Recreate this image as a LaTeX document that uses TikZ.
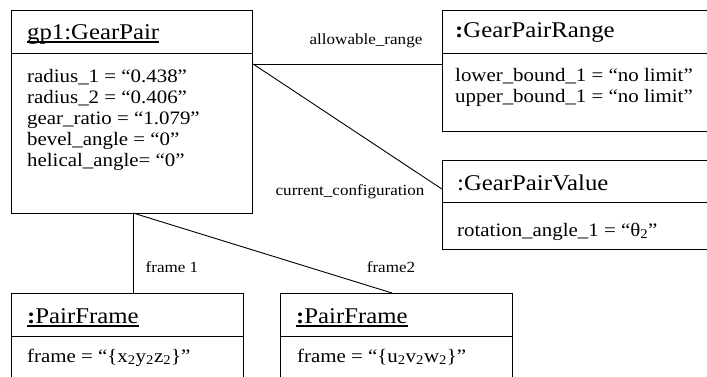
\documentclass[tikz,border=0pt]{standalone}
\usepackage{fontspec}
\setmainfont{Liberation Serif}[FakeStretch=1.1]
\begin{document}
\begin{tikzpicture}[x=1pt,y=-1pt,
  box/.style={draw, line width=1.1pt, inner sep=0pt, anchor=north west},
  ttl/.style={font=\fontsize{22.5}{27}\selectfont, inner sep=0pt, anchor=base west},
  attr/.style={font=\fontsize{19}{22}\selectfont, inner sep=0pt, anchor=base west},
  lbl/.style={font=\fontsize{15.5}{18}\selectfont, inner sep=0pt, anchor=base},
  conn/.style={line width=0.9pt},
  ul/.style={line width=1.3pt}]
\useasboundingbox (0,0) rectangle (707,377);
\clip (0,0) rectangle (707,377);
% boxes
\node[box, minimum width=241pt, minimum height=43pt] (gph) at (11,10) {};
\node[box, minimum width=241pt, minimum height=160pt] (gpb) at (11,53) {};
\node[box, minimum width=300pt, minimum height=43pt] (grh) at (442,10) {};
\node[box, minimum width=300pt, minimum height=78pt] (grb) at (442,53) {};
\node[box, minimum width=300pt, minimum height=42pt] (gvh) at (442,160) {};
\node[box, minimum width=300pt, minimum height=47pt] (gvb) at (442,202) {};
\node[box, minimum width=232pt, minimum height=43pt] (f1h) at (11,293) {};
\node[box, minimum width=232pt, minimum height=80pt] (f1b) at (11,336) {};
\node[box, minimum width=232pt, minimum height=43pt] (f2h) at (280,293) {};
\node[box, minimum width=232pt, minimum height=80pt] (f2b) at (280,336) {};
% titles
\node[ttl] (gpT) at (27,40) {gp1:GearPair};
\draw[ul] ([yshift=-2pt]gpT.base west) -- ([yshift=-2pt]gpT.base east);
\node[ttl] (grT) at (455,38) {\textbf{:}GearPairRange};
\node[ttl] (gvT) at (457,190) {:GearPairValue};
\node[ttl] (f1T) at (27,323) {\textbf{:}PairFrame};
\draw[ul] ([yshift=-3pt]f1T.base west) -- ([yshift=-3pt]f1T.base east);
\node[ttl] (f2T) at (296,323) {\textbf{:}PairFrame};
\draw[ul] ([yshift=-3pt]f2T.base west) -- ([yshift=-3pt]f2T.base east);
% attributes
\node[attr] (gpa1) at (27,83) {radius\_1 = “0.438”};
\node[attr] (gpa2) at (27,104) {radius\_2 = “0.406”};
\node[attr] (gpa3) at (27,125) {gear\_ratio = “1.079”};
\node[attr] (gpa4) at (27,146) {bevel\_angle = “0”};
\node[attr] (gpa5) at (27,167) {helical\_angle= “0”};
\node[attr] (gra1) at (455,82) {lower\_bound\_1 = “no limit”};
\node[attr] (gra2) at (455,103) {upper\_bound\_1 = “no limit”};
\node[attr] (gva1) at (457,236) {rotation\_angle\_1 = “θ\textsubscript{2}”};
\node[attr] (f1a1) at (27,362) {frame = “\{x\textsubscript{2}y\textsubscript{2}z\textsubscript{2}\}”};
\node[attr] (f2a1) at (297,362) {frame = “\{u\textsubscript{2}v\textsubscript{2}w\textsubscript{2}\}”};
% connector ports
\coordinate (gpR) at ([yshift=-11pt]gpb.north east);
\coordinate (gvP) at ([yshift=14pt]gvh.south west);
\coordinate (gpB) at (133,213);
\coordinate (f2P) at (392,293);
% connectors
\draw[conn] (gpR) -- (gpR -| grb.west);
\draw[conn] (gpR) -- (gvP);
\draw[conn] (gpB) -- (gpB |- f1h.north);
\draw[conn] (gpB) -- (f2P);
% labels
\node[lbl] (lAR) at (366,45) {allowable\_range};
\node[lbl] (lCC) at (350,195) {current\_configuration};
\node[lbl] (lF1) at (172,272) {frame 1};
\node[lbl] (lF2) at (391,272) {frame2};
\end{tikzpicture}
\end{document}
